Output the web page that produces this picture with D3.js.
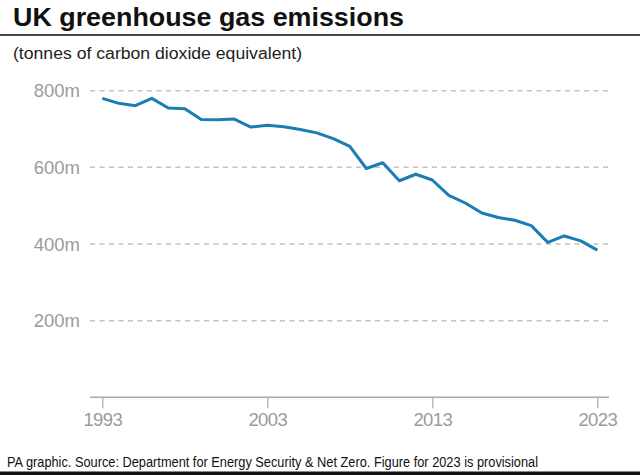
<!DOCTYPE html>
<html>
<head>
<meta charset="utf-8">
<script src="https://cdn.jsdelivr.net/npm/d3@7"></script>
<style>
  html, body { margin: 0; padding: 0; background: #fff; }
  svg { display: block; }
  text { font-family: "Liberation Sans", Arial, Helvetica, sans-serif; }
</style>
</head>
<body>
<svg id="chart" width="640" height="475"></svg>
<script>
// ---- data ----
const years = [1993,1994,1995,1996,1997,1998,1999,2000,2001,2002,2003,2004,2005,2006,2007,2008,
               2009,2010,2011,2012,2013,2014,2015,2016,2017,2018,2019,2020,2021,2022,2023];
const emissions = [780,767,761,780,755,753,725,724,726,705,710,706,699,690,675,655,
                   597,612,565,582,567,527,507,481,469,462,448,404,421,408,384];
const yTicks = [200, 400, 600, 800];
const yTickLabels = ["200m", "400m", "600m", "800m"];
const xTicks = [1993, 2003, 2013, 2023];
const title = "UK greenhouse gas emissions";
const subtitle = "(tonnes of carbon dioxide equivalent)";
const footer = "PA graphic. Source: Department for Energy Security & Net Zero. Figure for 2023 is provisional";

// ---- layout ----
const W = 640, H = 475;
const svg = d3.select("#chart");

const x = d3.scaleLinear().domain([1993, 2023]).range([102.3, 597.3]);
const y = d3.scaleLinear().domain([0, 800]).range([397.3, 90.7]);
const gridX0 = 90, gridX1 = 609;

// title
svg.append("text")
  .attr("x", 13).attr("y", 26)
  .attr("font-size", 26).attr("font-weight", "bold").attr("fill", "#111")
  .attr("textLength", 391).attr("lengthAdjust", "spacingAndGlyphs")
  .text(title);

// rule under title
svg.append("rect").attr("x", 0).attr("y", 34).attr("width", W).attr("height", 2).attr("fill", "#4a4a4a");

// subtitle
svg.append("text")
  .attr("x", 13).attr("y", 59)
  .attr("font-size", 16).attr("fill", "#222")
  .attr("textLength", 289).attr("lengthAdjust", "spacingAndGlyphs")
  .text(subtitle);

// gridlines
svg.append("g").selectAll("line").data(yTicks).join("line")
  .attr("x1", gridX0).attr("x2", gridX1)
  .attr("y1", d => y(d)).attr("y2", d => y(d))
  .attr("stroke", "#c4c4c4").attr("stroke-width", 1.5)
  .attr("stroke-dasharray", "5,4.5");

// y labels
svg.append("g").selectAll("text").data(yTicks).join("text")
  .attr("x", 80).attr("y", d => y(d)).attr("dy", "0.36em")
  .attr("text-anchor", "end").attr("font-size", 18.5).attr("fill", "#9b9b9b")
  .text((d, i) => yTickLabels[i]);

// x axis
const xAxis = d3.axisBottom(x).tickValues(xTicks).tickFormat(d3.format("d")).tickSize(11).tickPadding(5).tickSizeOuter(0);
const gx = svg.append("g").attr("transform", `translate(0,${y(0)})`).call(xAxis);
gx.select(".domain").remove();
gx.insert("line", ":first-child")
  .attr("x1", gridX0).attr("x2", gridX1).attr("y1", 0).attr("y2", 0)
  .attr("stroke", "#aaa").attr("stroke-width", 1.5);
gx.selectAll(".tick line").attr("stroke", "#aaa").attr("stroke-width", 1.2);
gx.selectAll(".tick text")
  .attr("font-family", "Liberation Sans, Arial, sans-serif")
  .attr("font-size", 18.5).attr("fill", "#9b9b9b").attr("letter-spacing", -0.6);

// line
const line = d3.line().x((d, i) => x(years[i])).y(d => y(d));
svg.append("path")
  .datum(emissions)
  .attr("d", line)
  .attr("fill", "none")
  .attr("stroke", "#1b7db4")
  .attr("stroke-width", 3)
  .attr("stroke-linejoin", "round")
  .attr("stroke-linecap", "butt");

// footer
svg.append("text")
  .attr("x", 7).attr("y", 467)
  .attr("font-size", 14).attr("fill", "#111")
  .attr("textLength", 531).attr("lengthAdjust", "spacingAndGlyphs")
  .text(footer);

svg.append("rect").attr("x", 0).attr("y", 471.5).attr("width", W).attr("height", 3.5).attr("fill", "#111");
</script>
</body>
</html>
